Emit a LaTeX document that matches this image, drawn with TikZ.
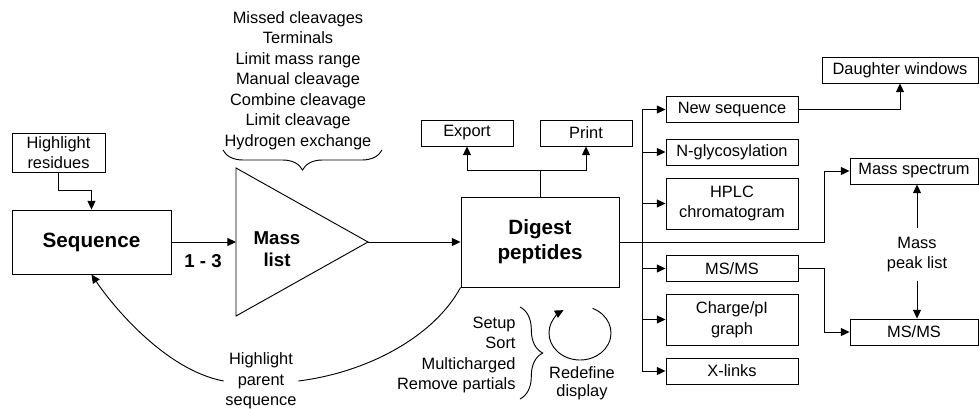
\documentclass[tikz,border=0pt]{standalone}
\usepackage{fontspec}
\setmainfont{Liberation Sans}
\usetikzlibrary{arrows.meta,decorations.pathreplacing,positioning}

\begin{document}
\begin{tikzpicture}[x=0.75pt, y=-0.75pt, line width=0.7pt,
	lbl/.style={align=center, inner sep=1pt, font=\fontsize{12.3}{15.4}\selectfont},
	box/.style={lbl, draw, inner sep=0pt, minimum height=19.5pt},
	mainbox/.style={draw, align=center, inner sep=0pt, font=\bfseries\fontsize{15.5}{18.6}\selectfont},
	bold/.style={align=center, inner sep=0pt, font=\bfseries\fontsize{14}{16.5}\selectfont},
	arr/.style={-{Triangle[length=6.5pt,width=6pt]}},
	brc/.style={decorate, decoration={brace, amplitude=#1}}]
	\useasboundingbox (0,0) rectangle (979,408);

	% sequence
	\node [box, minimum width=69.75pt, minimum height=29.25pt] (hres) at ( 58.5, 152.5 ) {Highlight\\residues};
	\node [mainbox, minimum width=119.25pt, minimum height=48pt] (seq) at ( 91.5, 242 ) {Sequence};
	\draw [arr] (hres.south) -- ++( 0, 18 ) -| (seq.north);

	% mass list
	\coordinate (tri-w) at ( 236, 242 );
	\coordinate (tri-e) at ( 368, 242 );
	\draw ( 236, 168 ) -- (tri-e) -- ( 236, 316 ) -- cycle;
	\node [bold] (mlist) at ( 277, 249 ) {Mass\\list};
	\draw [arr] (seq.east) -- (tri-w);
	\node [bold] (range) at ( 203, 261 ) {1 - 3};

	% options
	\node [lbl, inner sep=0pt] (opts) at ( 298, 80.5 ) {Missed cleavages\\Terminals\\Limit mass range\\Manual cleavage\\Combine cleavage\\Limit cleavage\\Hydrogen exchange};
	\draw [brc=15pt] ( 382, 150 ) -- ( 223, 150 );

	% digest
	\node [mainbox, minimum width=118.5pt, minimum height=67.5pt] (digest) at ( 540, 242 ) {Digest\\peptides};
	\draw [arr] (tri-e) -- (digest.west);
	\node [box, minimum width=69pt] (export) at ( 467, 133 ) {Export};
	\node [box, minimum width=69pt] (print) at ( 586, 133 ) {Print};
	\draw [arr] (digest.north) -- ++( 0, -26 ) -| (export.south);
	\draw [arr] (digest.north) -- ++( 0, -26 ) -| (print.south);

	% redefine display
	\node [lbl, align=right, anchor=east, inner sep=0pt] (setup) at ( 516, 355 ) {Setup\\Sort\\Multicharged\\Remove partials};
	\draw [brc=17pt] ( 520, 307 ) -- ( 520, 399 );
	\draw [arr] ( 580, 333 ) ++( -66:31 and 27 ) arc [start angle=-66, end angle=238, x radius=31, y radius=27];
	\node [lbl, inner sep=0pt, font=\fontsize{12.3}{13.6}\selectfont] (redef) at ( 582, 383 ) {Redefine\\display};

	% highlight parent sequence
	\node [lbl] (hps) at ( 261, 381 ) {Highlight\\parent\\sequence};
	\draw (digest.south west) .. controls ( 435, 335 ) and ( 370, 372 ) .. (hps.east);
	\draw [arr] (hps.west) .. controls ( 165, 370 ) and ( 112, 305 ) .. (seq.south);

	% outputs
	\coordinate (bus) at ( 642, 242 );
	\coordinate (split) at ( 824, 242 );
	\node [box, minimum width=99pt] (newseq) at ( 732, 109.5 ) {New sequence};
	\node [box, minimum width=99pt] (nglyc) at ( 732, 152 ) {N-glycosylation};
	\node [box, minimum width=99pt, minimum height=38.25pt] (hplc) at ( 732, 203.5 ) {HPLC\\chromatogram};
	\node [box, minimum width=99pt] (msms) at ( 732, 268.5 ) {MS/MS};
	\node [box, minimum width=99pt, minimum height=38.25pt] (charge) at ( 732, 319.5 ) {Charge/pI\\graph};
	\node [box, minimum width=99pt] (xlinks) at ( 732, 371 ) {X-links};
	\draw (bus |- newseq.west) -- (bus |- xlinks.west);
	\foreach \n in {newseq, nglyc, hplc, msms, charge, xlinks}
		\draw [arr] (bus |- \n.west) -- (\n.west);

	% mass spectrum
	\node [box, minimum width=117pt] (daughter) at ( 900, 70 ) {Daughter windows};
	\node [box, minimum width=96pt] (mspec) at ( 914, 171 ) {Mass spectrum};
	\node [box, minimum width=96pt] (msms2) at ( 914, 332 ) {MS/MS};
	\node [lbl, inner ysep=6pt] (mpl) at ( 917, 254.5 ) {Mass\\peak list};
	\draw [arr] (digest.east) -- (split) |- (mspec.west);
	\draw [arr] (newseq.east) -| (daughter.south);
	\draw [arr] (msms.east) -- (split |- msms.east) |- (msms2.west);
	\draw [arr] (mpl.north) -- (mpl.north |- mspec.south);
	\draw [arr] (mpl.south) -- (mpl.south |- msms2.north);
\end{tikzpicture}
\end{document}
